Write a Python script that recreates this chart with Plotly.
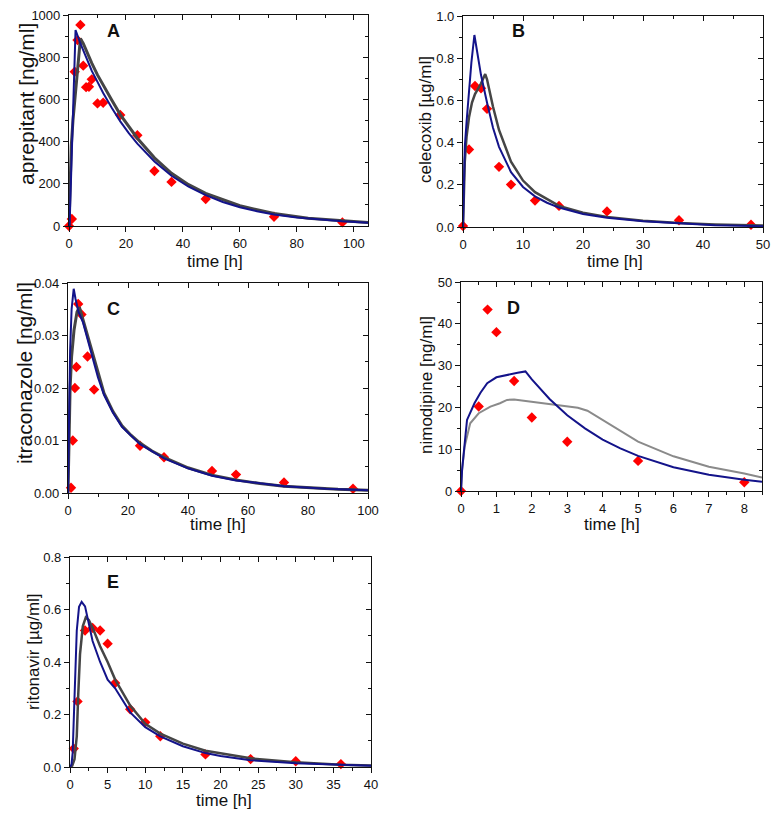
import plotly.graph_objects as go

# ---------------- data ----------------
# Panel A: aprepitant [ng/ml]
A_obs_t = [0, 1, 2, 3, 4, 5, 6, 7, 8, 10, 12, 18, 24, 30, 36, 48, 72, 96]
A_obs_c = [0, 33, 731, 881, 953, 760, 658, 660, 695, 581, 584, 526, 430, 261, 209, 128, 44, 17]
A_blue_t = [0, 0.2, 1.0, 2.3, 4, 6, 8, 10, 12, 15, 18, 21, 24, 30, 36, 42, 48, 54, 60, 66, 72, 80, 90, 96, 105]
A_blue_c = [0, 0, 354, 929, 865, 798, 735, 683, 630, 560, 496, 440, 390, 306, 238, 186, 146, 114, 89, 70, 55, 40, 27, 22, 15]
A_gray_t = [0, 0.3, 0.8, 1.4, 2.5, 3.5, 4.0, 5, 6, 8, 10, 12, 15, 18, 21, 24, 30, 36, 42, 48, 60, 72, 84, 96, 105]
A_gray_c = [0, 150, 380, 502, 680, 840, 888, 865, 832, 772, 716, 666, 597, 528, 470, 416, 323, 250, 196, 155, 96, 59, 37, 23, 16]

# Panel B: celecoxib [µg/ml]
B_obs_t = [0, 1, 2, 3, 4, 6, 8, 12, 16, 24, 36, 48]
B_obs_c = [0.005, 0.367, 0.668, 0.657, 0.560, 0.285, 0.201, 0.125, 0.100, 0.074, 0.032, 0.011]
B_blue_t = [0, 0.1, 0.3, 0.6, 1.0, 1.4, 1.9, 2.3, 3, 4, 5, 6, 8, 10, 12, 14, 16, 20, 24, 30, 36, 42, 50]
B_blue_c = [0, 0.20, 0.38, 0.50, 0.65, 0.78, 0.91, 0.84, 0.72, 0.59, 0.47, 0.38, 0.26, 0.19, 0.145, 0.115, 0.092, 0.062, 0.044, 0.027, 0.016, 0.008, 0.004]
B_gray_t = [0, 0.1, 0.3, 0.6, 1.0, 1.5, 2, 3, 3.7, 4, 5, 6, 8, 10, 12, 16, 20, 24, 30, 36, 42, 50]
B_gray_c = [0, 0.15, 0.31, 0.43, 0.52, 0.59, 0.63, 0.68, 0.725, 0.70, 0.57, 0.46, 0.31, 0.22, 0.165, 0.10, 0.068, 0.048, 0.030, 0.019, 0.012, 0.007]

# Panel C: itraconazole [ng/ml]
C_obs_t = [1, 1.6, 2.3, 2.8, 3.4, 4.5, 6.5, 8.7, 24, 32, 48, 56, 72, 95]
C_obs_c = [0.001, 0.010, 0.020, 0.024, 0.036, 0.034, 0.026, 0.0197, 0.009, 0.0068, 0.0042, 0.0035, 0.002, 0.0008]
C_blue_t = [0, 0.3, 0.7, 1.2, 1.9, 2.5, 3.5, 5, 6, 8, 10, 12, 15, 18, 24, 32, 40, 48, 56, 72, 86, 100]
C_blue_c = [0, 0.015, 0.027, 0.035, 0.0389, 0.037, 0.0345, 0.0325, 0.0305, 0.026, 0.022, 0.0187, 0.0153, 0.0126, 0.0093, 0.0066, 0.0047, 0.0033, 0.0024, 0.0013, 0.0008, 0.0005]
C_gray_t = [0, 0.3, 0.7, 1.2, 2, 3, 3.8, 5, 6, 8, 10, 12, 15, 18, 21, 24, 28, 32, 40, 48, 56, 64, 72, 80, 90, 100]
C_gray_c = [0, 0.012, 0.020, 0.026, 0.031, 0.0345, 0.0354, 0.033, 0.031, 0.0265, 0.0225, 0.019, 0.0155, 0.0128, 0.011, 0.0095, 0.008, 0.0068, 0.0048, 0.0034, 0.0025, 0.0018, 0.0013, 0.0010, 0.0007, 0.0005]

# Panel D: nimodipine [ng/ml]
D_obs_t = [0, 0.5, 0.75, 1.0, 1.5, 2.0, 3.0, 5.0, 8.0]
D_obs_c = [0, 20.2, 43.4, 38.0, 26.3, 17.6, 11.8, 7.2, 2.1]
D_blue_t = [0, 0.03, 0.17, 0.38, 0.55, 0.74, 1.0, 1.2, 1.4, 1.6, 1.82, 2.0, 2.5, 3.0, 3.5, 4.0, 4.5, 5.0, 6.0, 7.0, 8.0, 8.5]
D_blue_c = [0, 5, 17, 21, 23.5, 25.8, 27.2, 27.6, 28.0, 28.3, 28.6, 26.7, 22.0, 18.1, 15.0, 12.3, 10.2, 8.4, 5.7, 3.9, 2.7, 2.2]
D_gray_t = [0, 0.03, 0.1, 0.26, 0.5, 0.83, 1.1, 1.3, 1.5, 2.0, 2.5, 3.0, 3.3, 3.57, 4.0, 5.0, 6.0, 7.0, 8.0, 8.5]
D_gray_c = [0, 5, 10.5, 16.2, 18.6, 20.2, 21.0, 21.8, 21.9, 21.3, 20.8, 20.2, 19.9, 19.2, 17.0, 11.8, 8.3, 5.8, 4.2, 3.2]

# Panel E: ritonavir [µg/ml]
E_obs_t = [0.5, 1, 2, 3, 4, 5, 6, 8, 10, 12, 18, 24, 30, 36]
E_obs_c = [0.07, 0.25, 0.52, 0.53, 0.52, 0.47, 0.32, 0.22, 0.17, 0.117, 0.048, 0.030, 0.022, 0.011]
E_blue_t = [0, 0.2, 0.35, 0.66, 0.9, 1.2, 1.55, 2.0, 2.5, 3, 4, 5, 6, 8, 10, 12, 15, 18, 20, 24, 30, 36, 40]
E_blue_c = [0, 0.01, 0.053, 0.31, 0.52, 0.61, 0.629, 0.612, 0.55, 0.48, 0.40, 0.333, 0.30, 0.208, 0.152, 0.117, 0.079, 0.053, 0.042, 0.026, 0.014, 0.008, 0.005]
E_gray_t = [0, 0.3, 0.6, 0.9, 1.1, 1.33, 1.7, 2.1, 2.5, 3, 4, 5, 6, 8, 10, 12, 15, 18, 24, 30, 36, 40]
E_gray_c = [0, 0.005, 0.03, 0.117, 0.28, 0.43, 0.536, 0.570, 0.56, 0.53, 0.46, 0.40, 0.333, 0.234, 0.165, 0.127, 0.089, 0.062, 0.033, 0.018, 0.009, 0.006]

panel_letters = ["A", "B", "C", "D", "E"]
y_titles = ["aprepitant [ng/ml]", "celecoxib [µg/ml]", "itraconazole [ng/ml]",
            "nimodipine [ng/ml]", "ritonavir [µg/ml]"]
x_title = "time [h]"

# ---------------- styling / layout ----------------
W, H = 776, 816
FONT = "Liberation Sans, Arial, sans-serif"
BLUE = "#13138a"
GRAY = "#454545"
LGRAY = "#8a8a8a"
RED = "#ff0000"
INK = "#111111"

def px_x(x):
    return x / W

def px_y(y):
    return 1 - y / H

# pixel boxes: (left, right, top, bottom)
boxes = [(69, 368, 15, 226), (463, 763, 16, 227), (68, 368, 283, 493),
         (461, 762, 282, 491), (70, 371, 557, 767)]
ranges = [([0, 105], [0, 1000]), ([0, 50], [0, 1.0]), ([0, 100], [0, 0.04]),
          ([0, 8.5], [0, 50]), ([0, 40], [0, 0.8])]
xticks = [(20, 10), (10, 5), (20, 10), (1, 0.5), (5, 2.5)]
yticks = [(200, 100, None), (0.2, 0.1, ".1f"), (0.01, 0.005, ".2f"), (10, 5, None), (0.2, 0.1, ".1f")]
gray_colors = [GRAY, GRAY, GRAY, LGRAY, GRAY]
gray_widths = [3, 2.5, 3, 2, 2.5]

data_sets = [
    (A_obs_t, A_obs_c, A_blue_t, A_blue_c, A_gray_t, A_gray_c),
    (B_obs_t, B_obs_c, B_blue_t, B_blue_c, B_gray_t, B_gray_c),
    (C_obs_t, C_obs_c, C_blue_t, C_blue_c, C_gray_t, C_gray_c),
    (D_obs_t, D_obs_c, D_blue_t, D_blue_c, D_gray_t, D_gray_c),
    (E_obs_t, E_obs_c, E_blue_t, E_blue_c, E_gray_t, E_gray_c),
]

fig = go.Figure()
layout = dict(width=W, height=H, margin=dict(l=0, r=0, t=0, b=0, autoexpand=False),
              paper_bgcolor="white", plot_bgcolor="white", showlegend=False,
              font=dict(family=FONT, color=INK))
annotations = []

# title positions (pixel centres)
ytitle_pos = [(26, 104, 21), (425, 120, 17), (25, 373, 21), (426, 385, 17), (33, 652, 17)]
xtitle_pos = [(215, 261), (615, 261), (218, 524), (612, 524), (224, 800)]
letter_pos = [(113, 31), (518, 31), (113, 309), (513, 308), (113, 582)]

for i in range(5):
    n = "" if i == 0 else str(i + 1)
    m = str(i + 6)
    xa, ya = "x" + n, "y" + n
    xo, yo = "x" + m, "y" + m
    l, r, t, b = boxes[i]
    xr, yr = ranges[i]
    xd, xm = xticks[i]
    yd, ym, yf = yticks[i]
    base = dict(showline=True, linecolor=INK, linewidth=1.2, mirror=True,
                ticks="outside", ticklen=5, tickwidth=1, tickcolor=INK,
                showgrid=False, zeroline=False, automargin=False,
                tickfont=dict(family=FONT, size=13, color=INK))
    over = dict(showline=False, ticks="inside", ticklen=5, tickwidth=1, tickcolor=INK,
                showgrid=False, zeroline=False, automargin=False, showticklabels=False)
    xminor_out = dict(ticks="outside", ticklen=3, dtick=xm, tickcolor=INK, showgrid=False)
    yminor_out = dict(ticks="outside", ticklen=3, dtick=ym, tickcolor=INK, showgrid=False)
    xminor_in = dict(ticks="inside", ticklen=3, dtick=xm, tickcolor=INK, showgrid=False)
    yminor_in = dict(ticks="inside", ticklen=3, dtick=ym, tickcolor=INK, showgrid=False)

    layout["xaxis" + n] = dict(base, domain=[px_x(l), px_x(r)], range=xr, dtick=xd, tick0=0,
                               anchor=ya, minor=xminor_out)
    layout["yaxis" + n] = dict(base, domain=[px_y(b), px_y(t)], range=yr, dtick=yd, tick0=0,
                               anchor=xa, tickformat=yf if yf else None, minor=yminor_out)
    # mirrored axes on top / right with inward ticks
    layout["xaxis" + m] = dict(over, domain=[px_x(l), px_x(r)], range=xr, dtick=xd, tick0=0,
                               overlaying=xa, side="top", anchor=yo, minor=xminor_in)
    layout["yaxis" + m] = dict(over, domain=[px_y(b), px_y(t)], range=yr, dtick=yd, tick0=0,
                               overlaying=ya, side="right", anchor=xo, minor=yminor_in)
    fig.add_trace(go.Scatter(x=[None], y=[None], mode="lines", xaxis=xo, yaxis=yo,
                             hoverinfo="skip", line=dict(width=0)))

    ot, oc, bt, bc, gt, gc = data_sets[i]
    fig.add_trace(go.Scatter(x=ot, y=oc, mode="markers", xaxis=xa, yaxis=ya, cliponaxis=False,
                             marker=dict(symbol="diamond", size=8, color=RED, line=dict(width=0))))
    fig.add_trace(go.Scatter(x=gt, y=gc, mode="lines", xaxis=xa, yaxis=ya,
                             line=dict(color=gray_colors[i], width=gray_widths[i])))
    fig.add_trace(go.Scatter(x=bt, y=bc, mode="lines", xaxis=xa, yaxis=ya,
                             line=dict(color=BLUE, width=2)))

    yx, yy, ys = ytitle_pos[i]
    annotations.append(dict(text=y_titles[i], x=px_x(yx), y=px_y(yy), xref="paper", yref="paper",
                            showarrow=False, textangle=-90, xanchor="center", yanchor="middle",
                            font=dict(family=FONT, size=ys, color=INK)))
    tx, ty = xtitle_pos[i]
    annotations.append(dict(text=x_title, x=px_x(tx), y=px_y(ty), xref="paper", yref="paper",
                            showarrow=False, xanchor="center", yanchor="middle",
                            font=dict(family=FONT, size=17, color=INK)))
    lx, ly = letter_pos[i]
    annotations.append(dict(text="<b>" + panel_letters[i] + "</b>", x=px_x(lx), y=px_y(ly),
                            xref="paper", yref="paper", showarrow=False,
                            xanchor="center", yanchor="middle",
                            font=dict(family=FONT, size=18, color=INK)))

layout["annotations"] = annotations
fig.update_layout(**layout)
fig.write_html("out.html", config={"displayModeBar": False},
               post_script="document.body.style.margin='0';document.body.style.overflow='hidden';")
